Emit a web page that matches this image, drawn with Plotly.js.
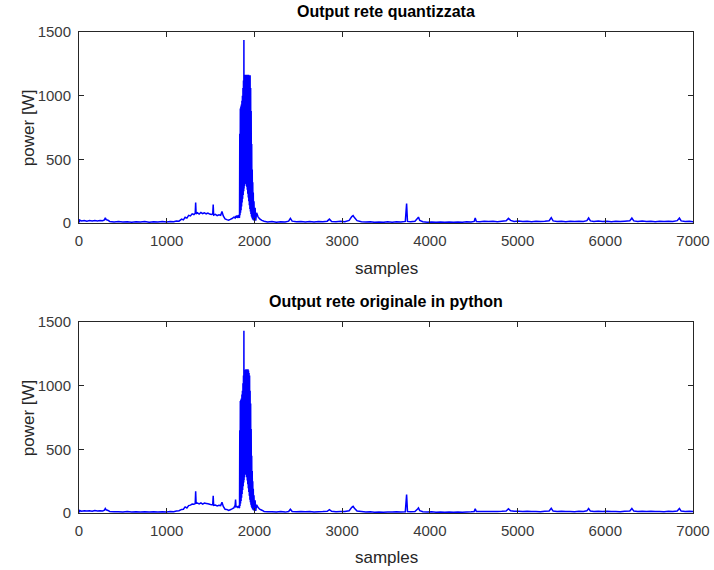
<!DOCTYPE html>
<html>
<head>
<meta charset="utf-8">
<script src="https://cdn.plot.ly/plotly-3.0.1.min.js"></script>
<style>
  html, body { margin: 0; padding: 0; background: #ffffff; }
  #chart { width: 714px; height: 570px; }
</style>
</head>
<body>
<div id="chart"></div>
<script>
// ---- data ----
const titleTop = "Output rete quantizzata";
const titleBottom = "Output rete originale in python";
const xLabel = "samples";
const yLabel = "power [W]";
const xTickVals = [0, 1000, 2000, 3000, 4000, 5000, 6000, 7000];
const yTickVals = [0, 500, 1000, 1500];

const samples = [
  0, 4, 8, 30, 60, 90, 120, 150, 180, 210, 240, 270, 290, 300, 310, 330, 350, 400, 450, 500,
  550, 600, 650, 700, 750, 800, 850, 900, 950, 1000, 1040, 1080, 1110, 1140, 1170, 1190, 1210, 1230, 1250, 1270,
  1290, 1310, 1325, 1330, 1335, 1350, 1370, 1390, 1410, 1430, 1450, 1470, 1490, 1510, 1525, 1530, 1535, 1555, 1575, 1595,
  1615, 1630, 1645, 1665, 1685, 1705, 1725, 1745, 1765, 1780, 1785, 1790, 1800, 1810, 1820, 1826,
  1830, 1833, 1836, 1839, 1842, 1845, 1848, 1851, 1854, 1857, 1860, 1863, 1866, 1869, 1872, 1875, 1878, 1880, 1882, 1885,
  1888, 1891, 1894, 1897, 1900, 1903, 1906, 1909, 1912, 1915, 1918, 1921, 1924, 1927, 1930, 1933, 1936, 1939, 1942, 1945,
  1948, 1951, 1954, 1957, 1960, 1963, 1966, 1969, 1972, 1975, 1978, 1981, 1984, 1987, 1990, 1995, 2000, 2008, 2015, 2025,
  2040, 2060, 2085, 2110, 2150, 2200, 2250, 2300, 2350, 2390, 2410, 2430, 2480, 2530, 2580, 2630, 2680, 2730, 2780, 2830,
  2855, 2880, 2930, 2980, 3030, 3080, 3110, 3125, 3140, 3170, 3220, 3270, 3320, 3370, 3420, 3470, 3520, 3570, 3620, 3670,
  3720, 3735, 3745, 3780, 3830, 3860, 3870, 3885, 3920, 3970, 4020, 4070, 4120, 4170, 4220, 4270, 4320, 4370, 4420, 4470,
  4505, 4517, 4530, 4570, 4620, 4670, 4720, 4770, 4820, 4870, 4896, 4920, 4960, 5010, 5060, 5110, 5160, 5210, 5260, 5310,
  5360, 5384, 5405, 5450, 5500, 5550, 5600, 5650, 5700, 5750, 5790, 5810, 5830, 5870, 5920, 5970, 6020, 6070, 6120, 6170,
  6220, 6280, 6303, 6325, 6370, 6420, 6470, 6520, 6570, 6620, 6670, 6720, 6770, 6820, 6845, 6865, 6910, 6960, 7000
];

const powerQuantized = [
  30, 5, 22, 16, 20, 14, 19, 15, 20, 16, 19, 17, 24, 40, 26, 22, 12, 8, 11, 7,
  10, 6, 10, 7, 11, 6, 10, 7, 11, 8, 12, 9, 16, 14, 30, 24, 45, 38, 60, 55,
  72, 66, 75, 160, 72, 80, 70, 82, 74, 80, 72, 78, 70, 66, 70, 145, 62, 68, 58, 64,
  60, 90, 55, 32, 26, 22, 28, 35, 45, 38, 55, 42, 58, 40, 62, 45,
  40, 700, 60, 900, 80, 915, 100, 930, 130, 960, 160, 1000, 190, 1060, 220, 1120, 250, 1437, 270, 1130,
  290, 1160, 310, 1165, 325, 1160, 305, 1165, 285, 1160, 260, 1165, 230, 1160, 200, 1165, 170, 1160, 140, 1160,
  110, 1160, 90, 1060, 70, 880, 50, 620, 40, 420, 30, 320, 25, 240, 20, 170, 18, 120, 18, 80,
  50, 32, 20, 14, 8, 12, 6, 10, 8, 14, 36, 14, 9, 12, 8, 11, 7, 12, 9, 14,
  30, 12, 9, 13, 10, 20, 50, 58, 42, 18, 10, 7, 9, 5, 8, 5, 9, 6, 10, 7,
  12, 152, 12, 10, 14, 36, 46, 20, 10, 6, 8, 5, 7, 5, 8, 5, 7, 6, 9, 7,
  12, 39, 12, 10, 14, 11, 13, 10, 14, 18, 36, 20, 12, 15, 11, 14, 10, 13, 11, 14,
  18, 41, 16, 12, 14, 10, 13, 11, 14, 12, 18, 39, 16, 12, 15, 11, 14, 10, 13, 11,
  14, 18, 39, 16, 12, 15, 11, 14, 10, 13, 11, 14, 12, 18, 39, 16, 12, 14, 10
];

const powerOriginal = [
  25, 5, 20, 14, 18, 15, 17, 14, 19, 15, 18, 16, 22, 35, 25, 20, 12, 9, 10, 8,
  11, 7, 9, 8, 10, 7, 9, 8, 10, 7, 11, 10, 15, 18, 28, 30, 48, 40, 58, 62,
  70, 68, 74, 170, 76, 78, 72, 80, 70, 78, 75, 72, 68, 64, 66, 135, 60, 62, 56, 60,
  58, 85, 52, 30, 28, 20, 26, 32, 40, 60, 105, 48, 50, 44, 55, 42,
  40, 650, 55, 880, 75, 890, 95, 900, 120, 930, 150, 960, 180, 1020, 210, 1080, 240, 1432, 260, 1100,
  280, 1120, 300, 1125, 320, 1130, 300, 1125, 280, 1130, 255, 1125, 225, 1130, 195, 1120, 165, 1100, 135, 1080,
  105, 960, 85, 860, 65, 660, 50, 450, 40, 330, 30, 250, 25, 190, 20, 140, 18, 100, 16, 65,
  45, 30, 22, 12, 10, 9, 8, 11, 7, 12, 30, 12, 10, 11, 9, 12, 8, 10, 11, 13,
  26, 13, 10, 12, 11, 18, 45, 52, 38, 16, 12, 8, 9, 6, 8, 6, 8, 7, 9, 8,
  10, 145, 12, 9, 12, 32, 40, 18, 10, 7, 9, 6, 8, 6, 7, 6, 8, 6, 8, 9,
  11, 34, 12, 11, 12, 12, 11, 12, 13, 16, 33, 18, 13, 14, 12, 13, 11, 12, 10, 13,
  16, 37, 15, 12, 13, 11, 12, 10, 13, 12, 17, 35, 15, 11, 14, 12, 13, 11, 12, 10,
  13, 16, 36, 15, 12, 14, 12, 13, 11, 12, 10, 13, 12, 16, 35, 15, 12, 13, 11
];

// ---- chart ----
const lineStyle = { color: "#0000ff", width: 1.5, simplify: false };
const traces = [
  { x: samples, y: powerQuantized, type: "scatter", mode: "lines", line: lineStyle, xaxis: "x", yaxis: "y", hoverinfo: "x+y" },
  { x: samples, y: powerOriginal, type: "scatter", mode: "lines", line: lineStyle, xaxis: "x2", yaxis: "y2", hoverinfo: "x+y" }
];

const tickFont = { family: "Liberation Sans, Arial, sans-serif", size: 15, color: "#3a3a3a" };
function xAxis(anchor) {
  return {
    anchor: anchor, domain: [0, 1], range: [0, 7000],
    tickmode: "array", tickvals: xTickVals, ticktext: xTickVals.map(String),
    ticks: "inside", ticklen: 5, tickwidth: 1, tickcolor: "#262626",
    showline: true, linecolor: "#262626", linewidth: 1, mirror: "ticks",
    showgrid: false, zeroline: false, tickfont: tickFont, ticklabelstandoff: 4
  };
}
function yAxis(anchor, domain) {
  return {
    anchor: anchor, domain: domain, range: [0, 1500],
    tickmode: "array", tickvals: yTickVals, ticktext: yTickVals.map(String),
    ticks: "inside", ticklen: 5, tickwidth: 1, tickcolor: "#262626",
    showline: true, linecolor: "#262626", linewidth: 1, mirror: "ticks",
    showgrid: false, zeroline: false, tickfont: tickFont, ticklabelstandoff: 4
  };
}

const titleFont = { family: "Liberation Sans, Arial, sans-serif", size: 16, color: "#000000", weight: "bold" };
const labelFont = { family: "Liberation Sans, Arial, sans-serif", size: 17, color: "#262626" };

const layout = {
  width: 714, height: 570,
  margin: { l: 79, r: 21, t: 32, b: 57, pad: 0 },
  paper_bgcolor: "#ffffff", plot_bgcolor: "#ffffff",
  showlegend: false,
  xaxis: xAxis("y"),
  yaxis: yAxis("x", [0.603, 1]),
  xaxis2: xAxis("y2"),
  yaxis2: yAxis("x2", [0, 0.397]),
  annotations: [
    { text: "<b>" + titleTop + "</b>", xref: "paper", yref: "paper", x: 0.5, y: 1.042, xanchor: "center", yanchor: "middle", showarrow: false, font: titleFont },
    { text: "<b>" + titleBottom + "</b>", xref: "paper", yref: "paper", x: 0.5, y: 0.439, xanchor: "center", yanchor: "middle", showarrow: false, font: titleFont },
    { text: xLabel, xref: "paper", yref: "paper", x: 0.5, y: 0.509, xanchor: "center", yanchor: "middle", showarrow: false, font: labelFont },
    { text: xLabel, xref: "paper", yref: "paper", x: 0.5, y: -0.092, xanchor: "center", yanchor: "middle", showarrow: false, font: labelFont },
    { text: yLabel, xref: "paper", yref: "paper", x: -0.082, y: 0.8015, xanchor: "center", yanchor: "middle", textangle: -90, showarrow: false, font: labelFont },
    { text: yLabel, xref: "paper", yref: "paper", x: -0.082, y: 0.1985, xanchor: "center", yanchor: "middle", textangle: -90, showarrow: false, font: labelFont }
  ]
};

Plotly.newPlot("chart", traces, layout, { staticPlot: true, displayModeBar: false });
</script>
</body>
</html>
